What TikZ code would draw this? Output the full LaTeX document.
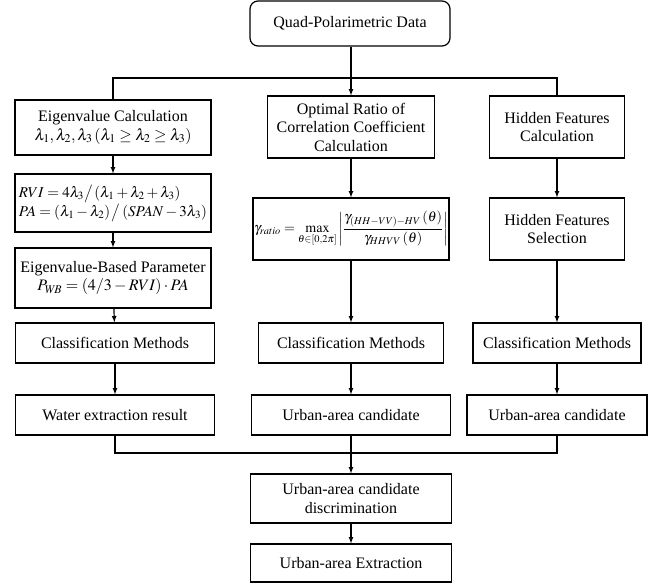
\documentclass[tikz,border=0pt]{standalone}
\usepackage{amsmath}
\usepackage{mathptmx}
\usepackage{fontspec}
\setmainfont{Liberation Serif}

\begin{document}
\begin{tikzpicture}[x=1pt, y=-1pt, line width=1.2pt,
    box/.style={draw, rectangle, align=center, inner sep=0pt, font=\fontsize{16}{18.5}\selectfont},
    arr/.style={-latex}]
        \useasboundingbox (0,0) rectangle (671,586);

        % Noder
        \node[box, rounded corners=8pt, minimum width=200pt, minimum height=45pt] (data) at (350,23.5) {Quad-Polarimetric Data};

        \node[box, minimum width=196pt, minimum height=55pt] (eig) at (113,127.5) {Eigenvalue Calculation\\ $\lambda_1,\lambda_2,\lambda_3\left(\lambda_1\geq\lambda_2\geq\lambda_3\right)$};
        \node[box, align=left, font=\fontsize{15}{19}\selectfont, minimum width=196pt, minimum height=58pt] (rvi) at (113,203) {$RVI=4\lambda_3\big/\left(\lambda_1+\lambda_2+\lambda_3\right)$\\ $PA=\left(\lambda_1-\lambda_2\right)\big/\left(SPAN-3\lambda_3\right)$};
        \node[box, minimum width=196pt, minimum height=60pt] (ebp) at (113,278) {Eigenvalue-Based Parameter\\ $P_{W\!B}=\left(4/3-RVI\right)\cdot PA$};
        \node[box, minimum width=199pt, minimum height=40pt] (cma) at (115,343) {Classification Methods};
        \node[box, minimum width=199pt, minimum height=40pt] (water) at (115,415) {Water extraction result};

        \node[box, minimum width=167pt, minimum height=62pt] (opt) at (351,127) {Optimal Ratio of\\ Correlation Coefficient\\ Calculation};
        \node[box, font=\fontsize{14}{16}\selectfont, minimum width=196pt, minimum height=62pt] (gam) at (351,229) {$\gamma_{ratio}=\max\limits_{\theta\in[0,2\pi]}\left|\dfrac{\gamma_{(HH-VV)-HV}\left(\theta\right)}{\gamma_{HHVV}\left(\theta\right)}\right|$};
        \node[box, minimum width=185pt, minimum height=40pt] (cmb) at (351,343) {Classification Methods};
        \node[box, minimum width=199pt, minimum height=40pt] (urbb) at (351,415) {Urban-area candidate};

        \node[box, minimum width=135pt, minimum height=62pt] (hida) at (557,127) {Hidden Features\\ Calculation};
        \node[box, minimum width=135pt, minimum height=62pt] (hidb) at (557,229) {Hidden Features\\ Selection};
        \node[box, minimum width=168pt, minimum height=40pt] (cmc) at (557,343) {Classification Methods};
        \node[box, minimum width=180pt, minimum height=40pt] (urbc) at (557,415) {Urban-area candidate};

        \node[box, minimum width=201pt, minimum height=49pt] (disc) at (351,498.5) {Urban-area candidate\\ discrimination};
        \node[box, minimum width=201pt, minimum height=38pt] (ext) at (351,563) {Urban-area Extraction};

        \coordinate (split) at (351,78);
        \coordinate (merge) at (351,453);

        % Kanter
        \draw[arr] (data.south -| opt.north) to (opt.north);
        \draw (eig.north) |- (split) -| (hida.north);

        \draw[arr] (eig) to (rvi);
        \draw[arr] (rvi) to (ebp);
        \draw[arr] (ebp) to (cma);
        \draw[arr] (cma) to (water);

        \draw[arr] (opt) to (gam);
        \draw[arr] (gam) to (cmb);
        \draw[arr] (cmb) to (urbb);

        \draw[arr] (hida) to (hidb);
        \draw[arr] (hidb) to (cmc);
        \draw[arr] (cmc) to (urbc);

        \draw (water.south) |- (merge) -| (urbc.south);
        \draw[arr] (urbb) to (disc);
        \draw[arr] (disc) to (ext);
    \end{tikzpicture}
\end{document}
